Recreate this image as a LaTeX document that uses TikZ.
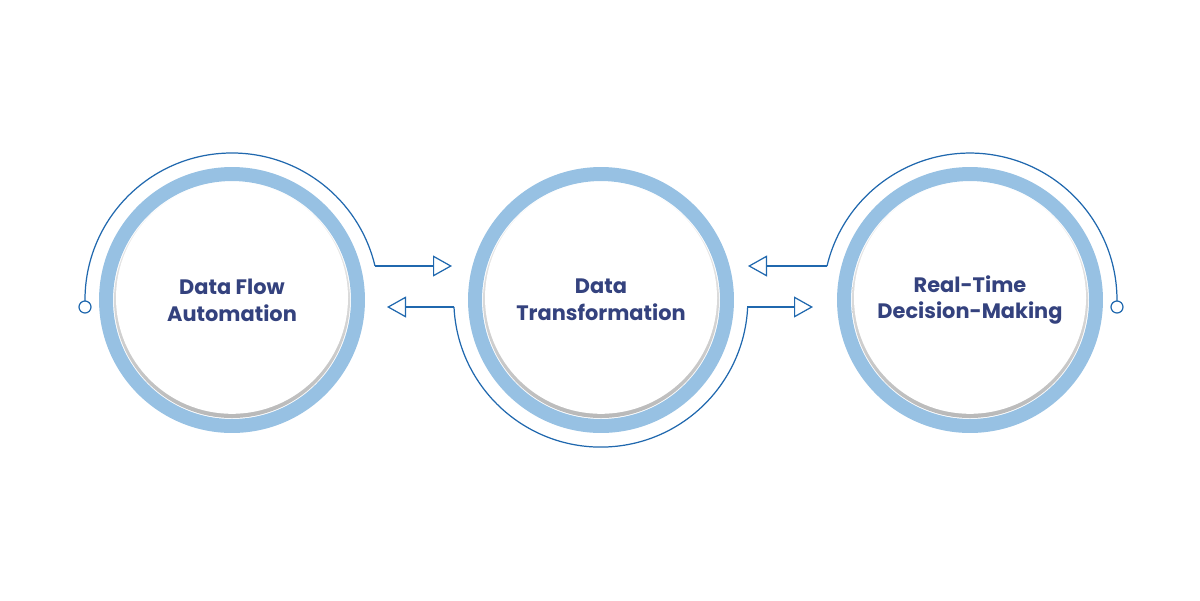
\documentclass[tikz,border=0pt]{standalone}
\usepackage{fontspec}
\setmainfont{Poppins}
\usepackage{tikz}
\usetikzlibrary{positioning,arrows.meta}
\definecolor{ringblue}{HTML}{97C1E3}
\definecolor{lineblue}{HTML}{2068AE}
\definecolor{textnavy}{HTML}{34427E}

\begin{document}
\begin{tikzpicture}[
x=0.02cm, y=0.02cm, line join=round,
stage/.style = {circle, draw=ringblue, line width=0.28cm, minimum size=5.04cm, inner sep=0pt,
  align=center, text=textnavy, font=\fontsize{11.9}{15.3}\selectfont\bfseries},
flowline/.style = {draw=lineblue, line width=0.7pt},
tip/.style = {-{Triangle[open, length=0.38cm, width=0.42cm, line width=0.7pt]}}]
\useasboundingbox (0,-300) rectangle (1200,300);
% soft shadow inside each ring
\foreach \cx in {232,601,970} {
  \shade[top color=gray!4, middle color=gray!22, bottom color=gray!55] (\cx,0) circle[radius=118];
  \fill[white] (\cx,2.2) circle[radius=116];
}
\node[stage] (flow) at (232,0) {Data Flow\\Automation};
\node[stage] (trans) at (601,0) {Data\\Transformation};
\node[stage] (decide) at (970,0) {Real-Time\\Decision-Making};
% thin guide arcs
\coordinate (a1) at (375,34);
\coordinate (a2) at (454,-7);
\coordinate (a3) at (747,-7);
\coordinate (a4) at (827,34);
\coordinate (t1) at (452,34);
\coordinate (t2) at (387,-7);
\coordinate (t3) at (813,-7);
\coordinate (t4) at (748,34);
\draw[flowline] (85,-1) arc[start angle=180.4, end angle=13.4, radius=147];
\draw[flowline] (85,-7) circle[radius=6];
\draw[flowline] (a2) arc[start angle=182.7, end angle=357.3, radius=147];
\draw[flowline] (a4) arc[start angle=166.6, end angle=-0.4, radius=147];
\draw[flowline] (1117,-7) circle[radius=6];
\draw[flowline, tip] (a1) -- (t1);
\draw[flowline, tip] (a2) -- (t2);
\draw[flowline, tip] (a3) -- (t3);
\draw[flowline, tip] (a4) -- (t4);
\end{tikzpicture}
\end{document}
